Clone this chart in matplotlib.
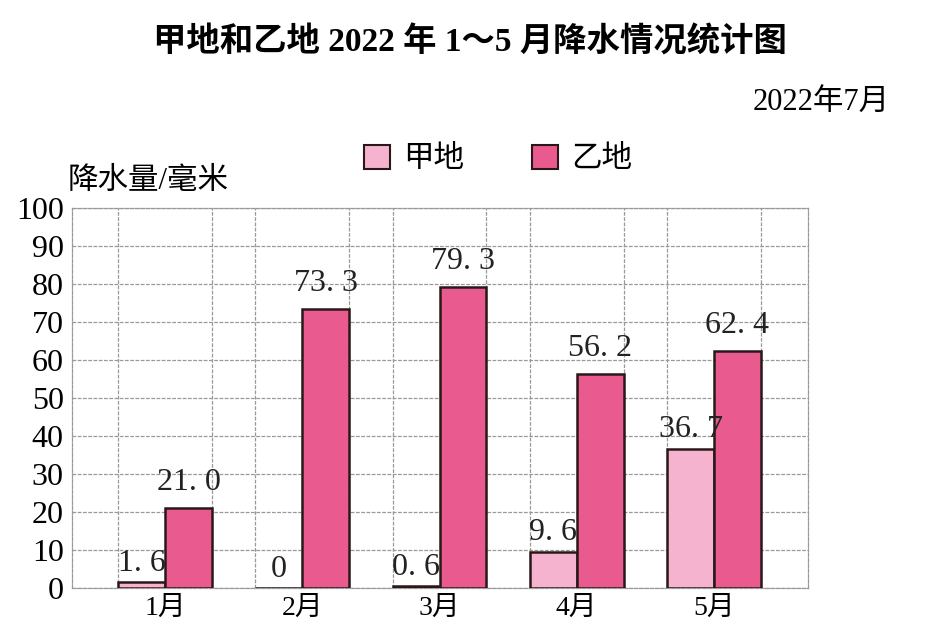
import numpy as np
import matplotlib
matplotlib.use('Agg')
import matplotlib.pyplot as plt
from matplotlib.patches import Patch

# Data
months = ['1月', '2月', '3月', '4月', '5月']
jia = [1.6, 0, 0.6, 9.6, 36.7]
yi = [21.0, 73.3, 79.3, 56.2, 62.4]
jia_labels = ['1.6', '0', '0.6', '9.6', '36.7']
yi_labels = ['21.0', '73.3', '79.3', '56.2', '62.4']
yticks = list(range(0, 101, 10))

fonts = ['Liberation Serif', 'Noto Sans CJK SC', 'DejaVu Sans']
plt.rcParams['font.family'] = fonts

fig = plt.figure(figsize=(9.45, 6.33), dpi=100)
ax = fig.add_axes([0.0762, 0.0711, 0.7788, 0.6003])

x = np.arange(len(months))
w = 0.342
c_jia = '#f5b3d0'
c_yi = '#e95a8e'
edge = '#2a1818'

b1 = ax.bar(x - w / 2, jia, w, color=c_jia, edgecolor=edge, linewidth=1.8, zorder=3)
b2 = ax.bar(x + w / 2, yi, w, color=c_yi, edgecolor=edge, linewidth=1.8, zorder=3)

# value labels with loose spacing like the original
def spaced(s):
    return s.replace('.', '. ')

for rect, lab in zip(b1, jia_labels):
    ax.annotate(spaced(lab), (rect.get_x() + rect.get_width() / 2, rect.get_height()),
                xytext=(0, 3), textcoords='offset points', ha='center', va='bottom',
                fontsize=23, color='#222')
for rect, lab in zip(b2, yi_labels):
    ax.annotate(spaced(lab), (rect.get_x() + rect.get_width() / 2, rect.get_height()),
                xytext=(0, 8), textcoords='offset points', ha='center', va='bottom',
                fontsize=23, color='#222')

ax.set_xlim(-0.678, len(months) - 1 + 0.685)
ax.set_ylim(0, 100)

# grid: horizontal every 10, vertical at bar edges
grid_kw = dict(color='#999999', linewidth=0.9, linestyle=(0, (3, 1.2)), zorder=1)
ax.set_yticks(yticks)
edges = np.concatenate([x - w, x, x + w])
ax.set_xticks(np.sort(edges), minor=True)
ax.set_xticks(x)
ax.set_xticklabels(months, fontsize=20)
ax.set_yticklabels([str(t) for t in yticks], fontsize=23)
ax.grid(axis='y', which='major', **grid_kw)
ax.grid(axis='x', which='minor', **grid_kw)
ax.tick_params(which='both', length=0)
ax.tick_params(axis='x', pad=6)
ax.tick_params(axis='y', pad=6)
for s in ax.spines.values():
    s.set_color('#999999')
    s.set_linewidth(0.9)
    s.set_linestyle((0, (3, 1.2)))

# texts
fig.text(0.497, 0.933, '甲地和乙地 2022 年 1～5 月降水情况统计图', ha='center', va='center',
         fontsize=24, fontweight='bold', family=['Liberation Serif', 'Noto Sans CJK SC'])
fig.text(0.942, 0.838, '2022年7月', ha='right', va='center', fontsize=22)
fig.text(0.072, 0.713, '降水量/毫米', ha='left', va='center', fontsize=22)

# legend
handles = [Patch(facecolor=c_jia, edgecolor=edge, linewidth=1.5, label='甲地'),
           Patch(facecolor=c_yi, edgecolor=edge, linewidth=1.5, label='乙地')]
fig.legend(handles=handles, loc='center', bbox_to_anchor=(0.527, 0.748), ncol=2,
           frameon=False, fontsize=22, handlelength=0.85, handleheight=0.85,
           handletextpad=0.45, columnspacing=2.2)

fig.savefig('out.png', dpi=100)
